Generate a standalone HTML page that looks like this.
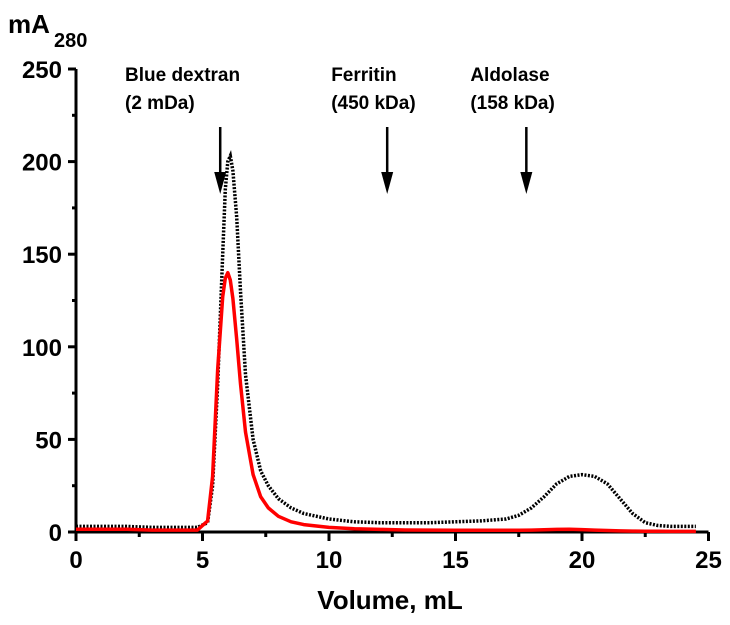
<!DOCTYPE html>
<html><head><meta charset="utf-8"><style>
body{margin:0;background:#fff;}
svg text{font-family:"Liberation Sans",Arial,sans-serif;font-weight:bold;fill:#000;}
</style></head><body>
<svg id="chart" width="730" height="620" viewBox="0 0 730 620" xmlns="http://www.w3.org/2000/svg">
<g id="axes"></g><g id="series"></g><g id="annot"></g>
</svg>
<script>
const xTicks=[0,5,10,15,20,25];
const yTicks=[0,50,100,150,200,250];
const volume=[0,1,2,3,4,4.8,5.2,5.4,5.6,5.8,5.9,6.0,6.1,6.2,6.35,6.5,6.7,7.0,7.3,7.6,8,8.5,9,10,11,12,13,14,15,16,17,17.5,18,18.5,19,19.5,20,20.5,21,21.5,22,22.5,23,23.5,24,24.5];
const dextranTrace=[3,3,3,2.5,2.5,2.5,5,25,80,150,185,200,203,195,170,130,85,50,33,25,18,13,10,7,5.5,5,5,5,5.5,6,7,9,13,19,26,30,31,30,26,18,10,5,3.5,3,3,3];
const sampleTrace=[1.5,1.5,1.5,1,1,1,6,30,88,127,137,140,136,126,104,80,54,31,19,13,8.5,5.5,4,2.5,1.8,1.4,1.1,1,0.9,0.9,0.9,0.9,1,1.2,1.4,1.5,1.3,1,0.8,0.6,0.5,0.4,0.4,0.3,0.3,0.3];
const xLabels=["0","5","10","15","20","25"];
const yLabels=["0","50","100","150","200","250"];
const markers=[{v:5.7,t1:"Blue dextran",t2:"(2 mDa)"},{v:12.3,t1:"Ferritin",t2:"(450 kDa)"},{v:17.8,t1:"Aldolase",t2:"(158 kDa)"}];
const X=v=>76+v*25.3, Y=v=>532-v*1.852;
const NS="http://www.w3.org/2000/svg";
function mk(tag,parent,attrs,txt){const e=document.createElementNS(NS,tag);for(const k in attrs)e.setAttribute(k,attrs[k]);if(txt!==undefined)e.textContent=txt;document.getElementById(parent).appendChild(e);return e;}
let e;
e=mk('line','axes',{x1:X(0),y1:Y(0),x2:X(25),y2:Y(0),stroke:'#000','stroke-width':3});

e=mk('line','axes',{x1:X(0),y1:Y(0)+1,x2:X(0),y2:Y(250),stroke:'#000','stroke-width':3});

xTicks.forEach((t,i)=>{
 e=mk('line','axes',{x1:X(t),y1:Y(0),x2:X(t),y2:Y(0)+9,stroke:'#000','stroke-width':3});
 
 if(i<xTicks.length-1){e=mk('line','axes',{x1:X(t+2.5),y1:Y(0),x2:X(t+2.5),y2:Y(0)+5,stroke:'#000','stroke-width':3});
 }
 e=mk('text','axes',{x:X(t),y:568,'text-anchor':'middle','font-size':24},xLabels[i]);
 
});
yTicks.forEach((t,i)=>{
 e=mk('line','axes',{x1:X(0)-8,y1:Y(t),x2:X(0),y2:Y(t),stroke:'#000','stroke-width':3});
 
 if(i<yTicks.length-1){e=mk('line','axes',{x1:X(0)-4,y1:Y(t+25),x2:X(0),y2:Y(t+25),stroke:'#000','stroke-width':3});
 }
 e=mk('text','axes',{x:62,y:Y(t)+9,'text-anchor':'end','font-size':24},yLabels[i]);
 
});
e=mk('text','axes',{x:390,y:609,'text-anchor':'middle','font-size':26},'Volume, mL');

e=mk('text','axes',{x:8,y:33,'font-size':26},'mA');

e=mk('text','axes',{x:54,y:47,'font-size':20},'280');

function pathFrom(vals){return volume.map((v,i)=>(i?'L':'M')+X(v).toFixed(1)+','+Y(vals[i]).toFixed(1)).join(' ');}
e=mk('path','series',{d:pathFrom(dextranTrace),fill:'none',stroke:'#000','stroke-width':3.5,'stroke-dasharray':'2 1.5'});

e=mk('path','series',{d:pathFrom(sampleTrace),fill:'none',stroke:'#f00','stroke-width':3.5,'stroke-linejoin':'round'});

markers.forEach(m=>{
 const x=X(m.v);
 e=mk('line','annot',{x1:x,y1:127,x2:x,y2:175,stroke:'#000','stroke-width':2.5});
 
 e=mk('polygon','annot',{points:`${x-6},172 ${x+6},172 ${x},194`,fill:'#000'});
 
 const lx=m.v<8?125:x-56;
 e=mk('text','annot',{x:lx,y:81,'font-size':19},m.t1);
 
 e=mk('text','annot',{x:lx,y:109,'font-size':19},m.t2);
 
});
</script>
</body></html>
